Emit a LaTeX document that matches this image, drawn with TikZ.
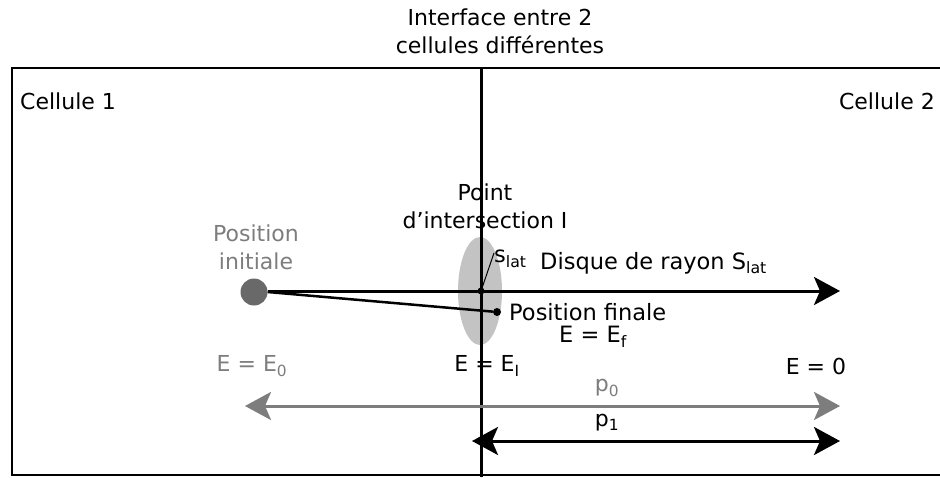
\documentclass[tikz,border=0pt]{standalone}
\usepackage{fontspec}
\setmainfont{DejaVu Sans}
\usetikzlibrary{arrows.meta}
\definecolor{dgrey}{RGB}{105,105,105}
\definecolor{mgrey}{RGB}{125,125,125}
\definecolor{lgrey}{RGB}{195,195,195}
\tikzset{
  lbl/.style={font=\fontsize{22pt}{28pt}\selectfont, inner sep=0pt, text=black},
  tlbl/.style={lbl, font=\fontsize{22pt}{28pt}\selectfont},
  slbl/.style={lbl, font=\fontsize{22.5pt}{27pt}\selectfont},
  glbl/.style={lbl, text=mgrey},
  bigarrow/.style={-{Stealth[length=26pt,width=28pt,inset=6pt]}, line width=3pt},
  bigdarrow/.style={{Stealth[length=26pt,width=28pt,inset=6pt]}-{Stealth[length=26pt,width=28pt,inset=6pt]}, line width=3pt},
}
\begin{document}
\begin{tikzpicture}[x=1pt,y=-1pt]
\useasboundingbox (0,0) rectangle (940,477);
\begin{scope}
\clip (0,0) rectangle (940,477);
\draw[line width=2pt] (12,68) rectangle (960,475);
\end{scope}
% title
\node[tlbl, align=center] (title) at (500,31) {Interface entre 2\\cellules différentes};
\node[lbl, anchor=west] (c1) at (20,101) {Cellule 1};
\node[lbl, anchor=east] (c2) at (935,101) {Cellule 2};
% ellipse disk
\fill[lgrey] (480,291) ellipse [x radius=22, y radius=54];
% interface
\coordinate (itop) at (481,68);
\coordinate (ibot) at (481,477);
\draw[line width=3pt] (itop) -- (ibot);
% points
\coordinate (I) at (481,291);
\node[circle, fill=dgrey, minimum size=27pt, inner sep=0pt] (init) at (254,292) {};
\node[circle, fill=black, minimum size=8pt, inner sep=0pt] (fin) at (497,312) {};
\fill (I) circle (3.5);
\coordinate (harrowend) at (840,291);
\draw[bigarrow] (init.east |- I) -- (harrowend);
\draw[line width=2.5pt] (init.east) -- (fin);
\coordinate (stip) at (494,253);
\draw[line width=1pt] (I) -- (stip);
% labels
\node[lbl, align=center] (pt) at (485,206) {Point\\d'intersection I};
\node[glbl, align=center] (pi) at (256,247) {Position\\initiale};
\node[slbl, anchor=west] (sl) at (494,259) {s\textsubscript{lat}};
\node[slbl, anchor=west] (dr) at (540,263) {Disque de rayon S\textsubscript{lat}};
\node[slbl, anchor=west] (pf) at (509,312) {Position finale};
\node[slbl] (ef) at (593,337) {E = E\textsubscript{f}};
\node[glbl] (e0) at (252,366) {E = E\textsubscript{0}};
\node[lbl] (ei) at (487,366) {E = E\textsubscript{I}};
\node[lbl] (ez) at (816,366) {E = 0};
% p arrows
\coordinate (p0l) at (245,406);
\coordinate (p0r) at (840,406);
\draw[bigdarrow, draw=mgrey, fill=mgrey] (p0l) -- (p0r);
\node[glbl] (p0) at (607,388) {p\textsubscript{0}};
\coordinate (p1l) at (472,441);
\coordinate (p1r) at (840,441);
\draw[bigdarrow] (p1l) -- (p1r);
\node[lbl] (p1) at (607,423) {p\textsubscript{1}};
\end{tikzpicture}
\end{document}
